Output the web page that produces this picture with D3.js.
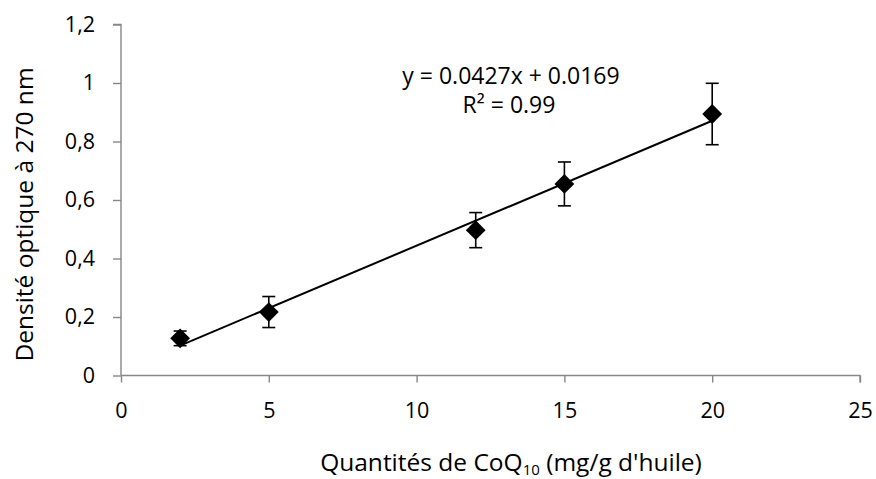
<!DOCTYPE html>
<html><head><meta charset="utf-8">
<script src="https://cdn.jsdelivr.net/npm/d3@7"></script>
<style>
body{margin:0;background:#fff;}
text{font-family:"Open Sans",sans-serif;fill:#000;}
</style></head>
<body>
<svg id="c" width="876" height="479"></svg>
<script>
// Data
const quantities = [2, 5, 12, 15, 20];
const density = [0.127, 0.217, 0.497, 0.655, 0.894];
const errors = [0.025, 0.053, 0.06, 0.075, 0.105];
const xTicks = [0, 5, 10, 15, 20, 25];
const yTicks = [0, 0.2, 0.4, 0.6, 0.8, 1, 1.2];
const yTickLabels = ["0", "0,2", "0,4", "0,6", "0,8", "1", "1,2"];
const trendSlope = 0.0427, trendIntercept = 0.0169;
const trendRange = [2, 20];
const eqLine1 = "y = 0.0427x + 0.0169";
const eqLine2 = "R² = 0.99";

const svg = d3.select("#c");
const x = d3.scaleLinear().domain([0, 25]).range([121, 860]);
const y = d3.scaleLinear().domain([0, 1.2]).range([375.5, 24.5]);
const axisColor = "#878787";

// Y axis
const yAxis = svg.append("g").attr("transform", `translate(${x(0)},0)`)
  .call(d3.axisLeft(y).tickValues(yTicks).tickSize(8).tickPadding(18)
    .tickFormat((d, i) => yTickLabels[i]));
// X axis
const xAxis = svg.append("g").attr("transform", `translate(0,${y(0)})`)
  .call(d3.axisBottom(x).tickValues(xTicks).tickSize(7).tickPadding(20));
[yAxis, xAxis].forEach(g => {
  g.select(".domain").attr("stroke", axisColor).attr("stroke-width", 1.4);
  g.selectAll(".tick line").attr("stroke", axisColor).attr("stroke-width", 1.4);
  g.selectAll(".tick text").style("font-family", '"Open Sans",sans-serif').style("font-size", "21.5px").attr("fill", "#000");
});
yAxis.select(".domain").attr("d", `M-8,${y(1.2)}H0V${y(0)}`);
xAxis.select(".domain").attr("d", `M${x(0)},0H${x(25)}V7`);

// Trend line
svg.append("line")
  .attr("x1", x(trendRange[0])).attr("y1", y(trendSlope * trendRange[0] + trendIntercept))
  .attr("x2", x(trendRange[1])).attr("y2", y(trendSlope * trendRange[1] + trendIntercept))
  .attr("stroke", "#000").attr("stroke-width", 2);

// Error bars
const eb = svg.append("g").attr("stroke", "#000").attr("stroke-width", 1.6);
quantities.forEach((q, i) => {
  const cx = x(q), top = y(density[i] + errors[i]), bot = y(density[i] - errors[i]);
  eb.append("line").attr("x1", cx).attr("x2", cx).attr("y1", top).attr("y2", bot);
  eb.append("line").attr("x1", cx - 6.5).attr("x2", cx + 6.5).attr("y1", top).attr("y2", top);
  eb.append("line").attr("x1", cx - 6.5).attr("x2", cx + 6.5).attr("y1", bot).attr("y2", bot);
});

// Markers (diamonds)
const sym = d3.symbol(d3.symbolSquare, 196);
svg.append("g").selectAll("path").data(quantities).join("path")
  .attr("d", sym)
  .attr("transform", (d, i) => `translate(${x(d)},${y(density[i])}) rotate(45)`)
  .attr("fill", "#000");

// Equation
svg.append("text").attr("x", 511).attr("y", 83.5).attr("text-anchor", "middle")
  .style("font-size", "23px").text(eqLine1);
svg.append("text").attr("x", 509).attr("y", 113).attr("text-anchor", "middle")
  .style("font-size", "23px").text(eqLine2);

// Axis titles
svg.append("text").attr("transform", "translate(33,214.5) rotate(-90)")
  .attr("text-anchor", "middle").style("font-size", "24.5px").text("Densité optique à 270 nm");
const xt = svg.append("text").attr("x", 511).attr("y", 471).attr("text-anchor", "middle")
  .style("font-size", "24.5px");
xt.append("tspan").text("Quantités de CoQ");
xt.append("tspan").attr("dy", 4).style("font-size", "15px").text("10");
xt.append("tspan").attr("dy", -4).text(" (mg/g d'huile)");
</script>
</body></html>
